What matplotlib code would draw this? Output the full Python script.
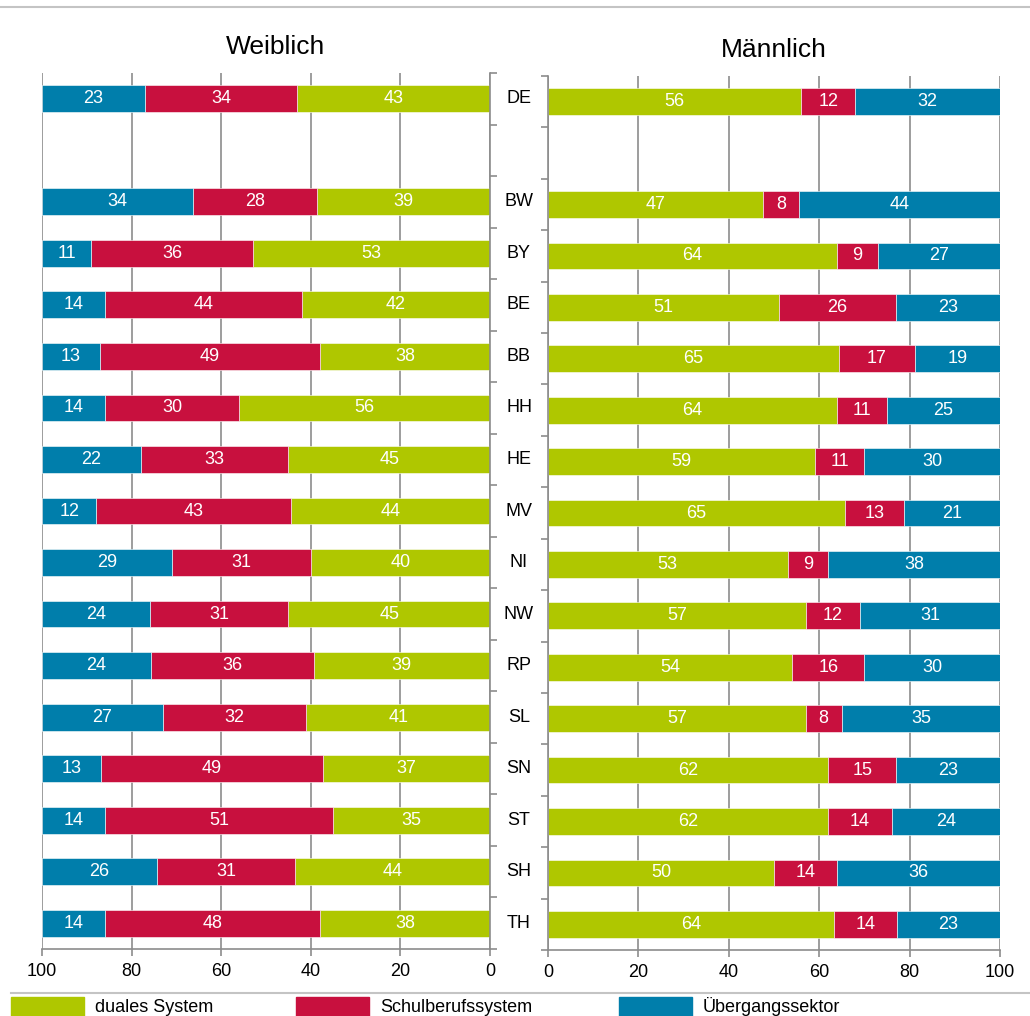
import numpy as np
import matplotlib.pyplot as plt
from matplotlib.lines import Line2D
from matplotlib.patches import Rectangle
from matplotlib.transforms import blended_transform_factory

plt.rcParams['font.family'] = ['Liberation Sans', 'DejaVu Sans']

# data: shares in percent, order top -> bottom ('' = empty row after DE)
regions = ['DE', '', 'BW', 'BY', 'BE', 'BB', 'HH', 'HE', 'MV', 'NI', 'NW',
           'RP', 'SL', 'SN', 'ST', 'SH', 'TH']
women_dual = [43, 39, 53, 42, 38, 56, 45, 44, 40, 45, 39, 41, 37, 35, 44, 38]
women_schul = [34, 28, 36, 44, 49, 30, 33, 43, 31, 31, 36, 32, 49, 51, 31, 48]
women_ueber = [23, 34, 11, 14, 13, 14, 22, 12, 29, 24, 24, 27, 13, 14, 26, 14]
men_dual = [56, 47, 64, 51, 65, 64, 59, 65, 53, 57, 54, 57, 62, 62, 50, 64]
men_schul = [12, 8, 9, 26, 17, 11, 11, 13, 9, 12, 16, 8, 15, 14, 14, 14]
men_ueber = [32, 44, 27, 23, 19, 25, 30, 21, 38, 31, 30, 35, 23, 24, 36, 23]

series_names = ['duales System', 'Schulberufssystem', 'Übergangssektor']
colors = ['#afc700', '#c8103e', '#007eab']
GRID = '#8c8c8c'
FS = 13

W, H = 1030, 1016
fig = plt.figure(figsize=(W / 100, H / 100), dpi=100)


def fx(px):
    return px / W


def fy(py):
    return 1 - py / H


ax_w = fig.add_axes([fx(42), fy(949), fx(490 - 42), (949 - 73) / H])
ax_m = fig.add_axes([fx(548), fy(950), fx(1000 - 548), (950 - 76) / H])

# row positions of the bars (row 1 stays empty)
ypos = [i for i in range(len(regions)) if i != 1]


def draw_panel(ax, dual, schul, ueber, title):
    vals = np.array([dual, schul, ueber], dtype=float)
    shares = vals / vals.sum(axis=0) * 100
    left = np.zeros(shares.shape[1])
    for k in range(3):
        ax.barh(ypos, shares[k], left=left, height=0.52, color=colors[k],
                edgecolor='white', linewidth=0.4, zorder=2)
        for y, l, w, v in zip(ypos, left, shares[k], vals[k]):
            ax.text(l + w / 2, y, f'{v:.0f}', ha='center', va='center',
                    color='white', fontsize=FS, zorder=3)
        left += shares[k]

    ax.set_ylim(len(regions) - 0.5, -0.5)
    ax.set_yticks(np.arange(-0.5, len(regions), 1.0))
    ax.set_yticklabels([])
    ax.set_xticks(np.arange(0, 101, 20))
    ax.grid(axis='x', color=GRID, linewidth=1.2, zorder=0)
    ax.set_axisbelow(True)
    ax.tick_params(axis='x', colors=GRID, length=5, width=1.2,
                   labelcolor='black', labelsize=FS, pad=5)
    ax.tick_params(axis='y', colors=GRID, length=5, width=1.2)
    for s in ax.spines.values():
        s.set_color(GRID)
        s.set_linewidth(1.2)
    ax.spines['top'].set_visible(False)
    return ax.set_title(title, fontsize=19, pad=14)


t = draw_panel(ax_w, women_dual, women_schul, women_ueber, 'Weiblich')
t.set_x(0.522)
ax_w.set_xlim(100, 0)
ax_w.spines['left'].set_visible(False)
ax_w.yaxis.tick_right()

draw_panel(ax_m, men_dual, men_schul, men_ueber, 'Männlich')
ax_m.set_xlim(0, 100)
ax_m.spines['right'].set_visible(False)

# region labels between the two panels
trans = blended_transform_factory(ax_w.transAxes, ax_w.transData)
for i, r in enumerate(regions):
    if r:
        ax_w.text((519 - 42) / 448, i, r, transform=trans, ha='center',
                  va='center', fontsize=FS, clip_on=False)

# separator lines
fig.add_artist(Line2D([0, 1], [fy(7), fy(7)], color='#c4c4c4', lw=1.5))
fig.add_artist(Line2D([fx(11), 1], [fy(993), fy(993)], color='#c4c4c4', lw=1.5))

# legend
for x0, name, c in zip([11, 296, 619], series_names, colors):
    fig.add_artist(Rectangle((fx(x0), 0), fx(73), fy(997), color=c,
                             transform=fig.transFigure))
    fig.text(fx(x0 + 84), fy(1007), name, fontsize=13, va='center', ha='left')

fig.savefig('out.png', dpi=100)
